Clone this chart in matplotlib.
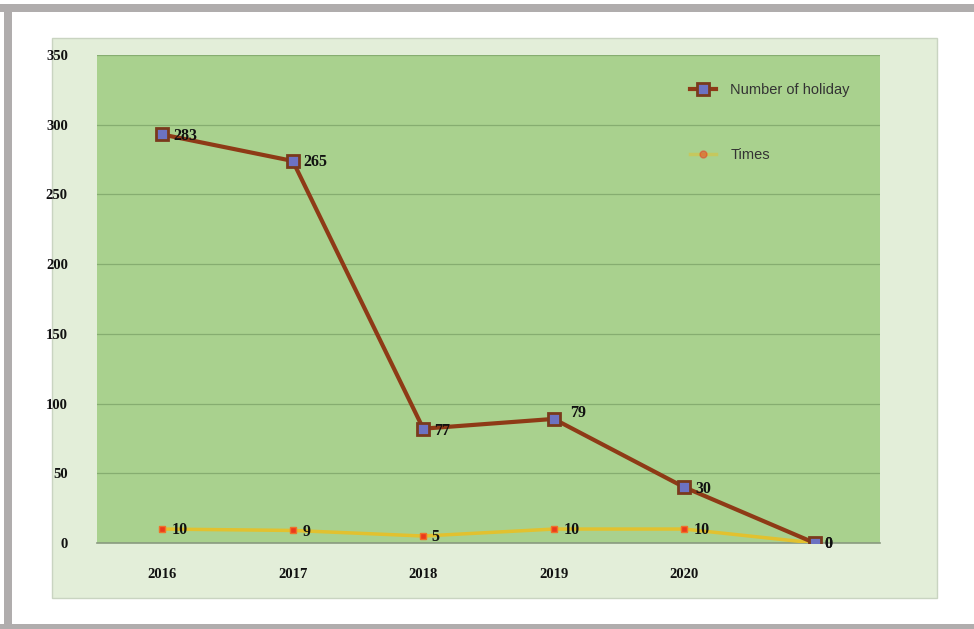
import matplotlib.pyplot as plt
from matplotlib.patches import Rectangle
from matplotlib.lines import Line2D

# data
years = ["2016", "2017", "2018", "2019", "2020", ""]
holidays = [283, 265, 77, 79, 30, 0]
times = [10, 9, 5, 10, 10, 0]

# stacked line chart: holiday line sits on top of times
stacked = [h + t for h, t in zip(holidays, times)]
x = list(range(len(years)))

fig = plt.figure(figsize=(9.74, 6.29), dpi=100)
fig.patch.set_facecolor("white")

# grey frame around the picture (top, left, bottom)
frame = "#b0adad"
fig.add_artist(Rectangle((0, 1 - 12 / 629), 1, 8 / 629, transform=fig.transFigure,
                         facecolor=frame, edgecolor="none", zorder=-5))
fig.add_artist(Rectangle((4 / 974, 0), 8 / 974, 1 - 4 / 629, transform=fig.transFigure,
                         facecolor=frame, edgecolor="none", zorder=-5))
fig.add_artist(Rectangle((0, 0), 1, 5 / 629, transform=fig.transFigure,
                         facecolor=frame, edgecolor="none", zorder=-5))

# light green chart panel
fig.add_artist(Rectangle((52 / 974, 31 / 629), 885 / 974, 560 / 629, transform=fig.transFigure,
                         facecolor="#e3eed9", edgecolor="#c9d4c1", linewidth=1, zorder=-5))

ax = fig.add_axes([97 / 974, 86 / 629, 783 / 974, 488 / 629])
ax.set_facecolor("#a9d18e")
for s in ax.spines.values():
    s.set_visible(False)
ax.spines["bottom"].set_visible(True)
ax.spines["bottom"].set_color("#8a9a80")
ax.spines["bottom"].set_linewidth(1.2)

ax.set_xlim(-0.5, len(years) - 0.5)
ax.set_ylim(0, 350)
ax.set_yticks(range(0, 351, 50))
ax.yaxis.grid(True, color="#86ad70", linewidth=0.9)
ax.set_axisbelow(True)
ax.tick_params(length=0)
ax.tick_params(axis="y", pad=21)
ax.tick_params(axis="x", pad=18)
ax.set_xticks(x)
ax.set_xticklabels(years)
for lab in ax.get_xticklabels() + ax.get_yticklabels():
    lab.set_family("Liberation Serif")
    lab.set_fontweight("bold")
    lab.set_fontsize(10.5)
    lab.set_color("#111111")

# times series
ax.plot(x, times, color="#e2c12f", linewidth=2.5, zorder=3)
ax.plot(x, times, linestyle="none", marker="s", markersize=5,
        markerfacecolor="#ea3a1c", markeredgecolor="#f0702a", zorder=4)

# holiday series (stacked)
ax.plot(x, stacked, color="#8e3a16", linewidth=3, marker="s", markersize=9,
        markerfacecolor="#6c72c2", markeredgecolor="#7a3a1c", markeredgewidth=2, zorder=5)

lab_font = dict(family="Liberation Serif", fontweight="bold", fontsize=11.5, color="#111111")
hol_offsets = [(8, -1), (8, -1), (8, -2), (12, 4), (8, -1), (7, -1)]
for xi, yi, v, off in zip(x, stacked, holidays, hol_offsets):
    ax.annotate(str(v), (xi, yi), xytext=off, textcoords="offset points",
                ha="left", va="center", zorder=6, **lab_font)
times_offsets = [(7, -1), (7, -1), (6, -1), (7, -1), (7, -1), (7, -1)]
for xi, yi, v, off in zip(x, times, times, times_offsets):
    ax.annotate(str(v), (xi, yi), xytext=off, textcoords="offset points",
                ha="left", va="center", zorder=6, **lab_font)

handles = [
    Line2D([], [], color="#8e3a16", linewidth=3, marker="s", markersize=8,
           markerfacecolor="#6c72c2", markeredgecolor="#7a3a1c", markeredgewidth=2),
    Line2D([], [], color="#e2c12f", linewidth=2.5, alpha=0.5, marker="o", markersize=5,
           markerfacecolor="#ea3a1c", markeredgecolor="#ea3a1c"),
]
leg = ax.legend(handles, ["Number of holiday", "Times"], loc="upper left",
                bbox_to_anchor=(0.74, 0.97), frameon=False, labelspacing=3.5,
                handlelength=1.8, handletextpad=1.0,
                prop={"family": "Liberation Sans", "size": 10.5})
for t in leg.get_texts():
    t.set_color("#333333")

fig.savefig("out.png", dpi=100, facecolor="white")
